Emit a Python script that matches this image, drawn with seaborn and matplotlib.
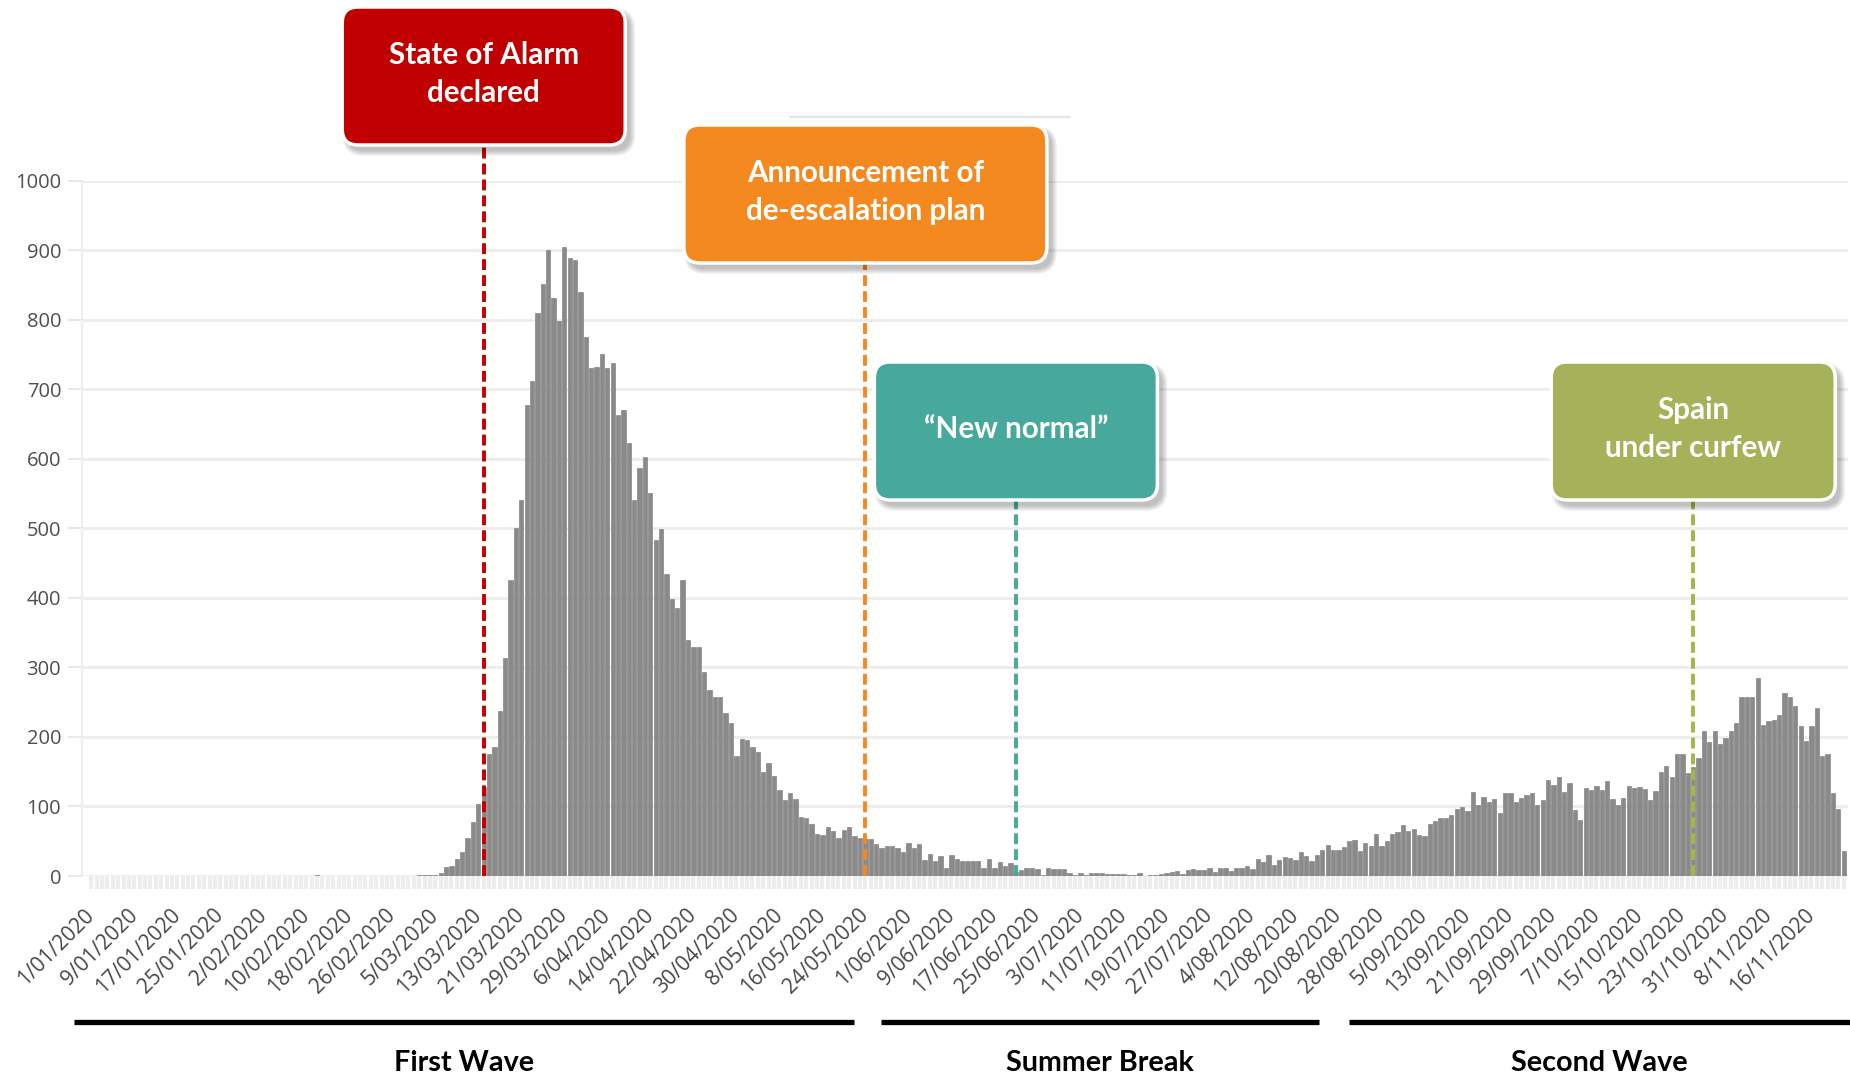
import numpy as np
import pandas as pd
import matplotlib
matplotlib.use("Agg")
import matplotlib.pyplot as plt
from matplotlib.patches import FancyBboxPatch
from matplotlib.lines import Line2D
import seaborn as sns

# Daily COVID-19 deaths, Spain, 1 Jan - 22 Nov 2020 (one list per month)
jan = [0, 0, 0, 0, 0, 0, 0, 0, 0, 0, 0, 0, 0, 0, 0, 0, 0, 0, 0, 0,
       0, 0, 0, 0, 0, 0, 0, 0, 0, 0, 0]
feb = [0, 0, 0, 0, 0, 0, 0, 0, 0, 0, 0, 2, 0, 0, 0, 0, 0, 0, 0, 0,
       0, 0, 0, 0, 0, 0, 0, 0, 0]
mar = [0, 1, 1, 2, 2, 4, 13, 15, 25, 34, 55, 77, 103, 128, 176, 185, 237,
       314, 426, 500, 540, 677, 712, 810, 852, 900, 831, 798, 905, 889, 886]
apr = [840, 775, 731, 732, 751, 731, 737, 663, 670, 623, 540, 587, 602, 551,
       483, 499, 434, 398, 385, 425, 339, 329, 329, 293, 268, 257, 258, 234,
       220, 173]
may = [197, 195, 185, 179, 150, 163, 144, 124, 109, 120, 111, 85, 84, 75, 60,
       59, 71, 65, 54, 66, 70, 58, 54, 53, 53, 46, 40, 43, 43, 40, 34]
jun = [48, 40, 46, 23, 32, 21, 29, 12, 30, 24, 22, 21, 21, 21, 12, 24, 12, 20,
       15, 18, 6, 9, 12, 11, 10, 2, 11, 10, 10, 10]
jul = [4, 1, 5, 1, 4, 4, 4, 3, 3, 3, 3, 1, 1, 5, 0, 2, 2, 3, 5, 6, 7, 3, 8,
       10, 8, 8, 11, 6, 11, 12, 7]
aug = [12, 12, 15, 10, 24, 20, 30, 16, 23, 28, 26, 23, 34, 29, 21, 30, 37, 44,
       37, 37, 41, 50, 52, 36, 47, 43, 61, 43, 50, 60, 63]
sep = [73, 65, 68, 59, 58, 75, 79, 84, 83, 88, 96, 99, 94, 121, 102, 114, 106,
       111, 91, 120, 120, 107, 112, 117, 120, 102, 110, 138, 131, 143]
oct_ = [121, 134, 95, 80, 126, 124, 129, 123, 137, 111, 102, 112, 129, 126,
        128, 125, 110, 122, 149, 158, 142, 176, 176, 148, 157, 170, 208, 192,
        208, 190, 198]
nov = [209, 220, 258, 258, 258, 285, 217, 223, 225, 232, 263, 258, 245, 216,
       194, 215, 241, 173, 176, 119, 97, 36]

deaths = jan + feb + mar + apr + may + jun + jul + aug + sep + oct_ + nov
dates = pd.date_range("2020-01-01", periods=len(deaths), freq="D")
day_labels = [f"{d.day}/{d.month:02d}/{d.year}" for d in dates]

# Key policy events
event_names = ["State of Alarm\ndeclared", "Announcement of\nde-escalation plan",
               "\u201cNew normal\u201d", "Spain\nunder curfew"]
event_dates = ["2020-03-14", "2020-05-24", "2020-06-21", "2020-10-25"]
event_colors = ["#C00000", "#F4891F", "#46A99B", "#A6B25A"]
line_colors = ["#C00000", "#F4891F", "#46A99B", "#A9B540"]

# Periods marked under the axis
period_names = ["First Wave", "Summer Break", "Second Wave"]

W, H = 1850, 1077
sns.set_theme(style="white")
plt.rcParams["font.family"] = ["Open Sans", "DejaVu Sans"]

fig = plt.figure(figsize=(W / 100, H / 100), dpi=100)
fig.patch.set_facecolor("white")

ax_left, ax_right, ax_top, ax_bottom = 82, 1848, 180.6, 876
ax = fig.add_axes([ax_left / W, (H - ax_bottom) / H,
                   (ax_right - ax_left) / W, (ax_bottom - ax_top) / H])

df = pd.DataFrame({"day": day_labels, "deaths": deaths})
sns.barplot(data=df, x="day", y="deaths", ax=ax, color="#8a8a8a",
            saturation=1, width=0.8, edgecolor="#767676", linewidth=0.4)

n = len(deaths)
ax.set_xlim(-1.73, 326.8)
ax.set_ylim(0, 1000)
ax.set_yticks(range(0, 1001, 100))
ax.set_xlabel("")
ax.set_ylabel("")

ax.set_xticks(range(0, n, 8))
ax.set_xticklabels(day_labels[::8])
ax.set_xticks(range(n), minor=True)
ax.tick_params(axis="x", which="both", length=9, width=3, color="#ededed",
               direction="out", bottom=True)
ax.tick_params(axis="x", which="major", pad=17, labelsize=15, labelcolor="#474747")
for lbl in ax.get_xticklabels():
    lbl.set_rotation(45)
    lbl.set_ha("right")
    lbl.set_va("center")
    lbl.set_rotation_mode("anchor")

ax.tick_params(axis="y", length=10, width=1.5, color="#e8e8e8", left=True,
               labelsize=14.5, labelcolor="#4f4f4f", pad=5)
ax.yaxis.grid(True, color="#ececec", linewidth=2)
ax.xaxis.grid(False)
ax.set_axisbelow(True)
for side in ["top", "right", "bottom"]:
    ax.spines[side].set_visible(False)
ax.spines["left"].set_color("#eeeeee")
ax.spines["left"].set_linewidth(1.5)

# Event boxes (pixel geometry: top, width, height)
box_geom = [(7, 283, 138), (125, 363, 138), (362, 283, 138), (362, 284, 138)]
inv = ax.transData.inverted()
for name, dstr, col, lcol, (top, bw, bh) in zip(event_names, event_dates,
                                                  event_colors, line_colors, box_geom):
    idx = (pd.Timestamp(dstr) - dates[0]).days
    xpix = ax.transData.transform((idx, 0))[0]
    y_top_data = inv.transform((0, H - (top + bh)))[1]
    ax.plot([idx, idx], [0, y_top_data], color=lcol, lw=2.8,
            linestyle=(0, (2.8, 1.3)), clip_on=False, zorder=5)

    left = xpix - bw / 2
    bottom = H - top - bh
    for k in range(6):
        fig.patches.append(FancyBboxPatch(
            ((left + 5 - k) / W, (bottom - 6 - k) / H), (bw + 2 * k) / W, (bh + 2 * k) / H,
            boxstyle=f"round,pad=0,rounding_size={(16 + k) / W}",
            transform=fig.transFigure, facecolor="black", edgecolor="none",
            alpha=0.045, zorder=8, mutation_aspect=W / H))
    fig.patches.append(FancyBboxPatch(
        (left / W, bottom / H), bw / W, bh / H,
        boxstyle=f"round,pad=0,rounding_size={16 / W}",
        transform=fig.transFigure, facecolor=col, edgecolor="white",
        linewidth=2.5, zorder=9, mutation_aspect=W / H))
    fig.text(xpix / W, (bottom + bh / 2 + 2) / H, name, ha="center", va="center",
             color="white", fontsize=21.3, fontweight="bold",
             family=["Lato", "DejaVu Sans"], linespacing=1.45, zorder=10)

# Faint stray rule near the top
fig.add_artist(Line2D([790 / W, 1070 / W], [(H - 117) / H] * 2,
                      color="#e6e6e6", lw=1.6, zorder=2))

# Period brackets
period_spans = [(74, 854), (881, 1319), (1349, 1850)]
for name, (x0, x1) in zip(period_names, period_spans):
    fig.add_artist(Line2D([x0 / W, x1 / W], [(H - 1022) / H] * 2,
                          color="black", lw=3.8, solid_capstyle="butt"))
    fig.text((x0 + x1) / 2 / W, (H - 1063) / H, name, ha="center", va="center",
             fontsize=20.7, fontweight="bold", color="black",
             family=["Lato", "DejaVu Sans"])

fig.savefig("out.png", dpi=100, facecolor="white")
